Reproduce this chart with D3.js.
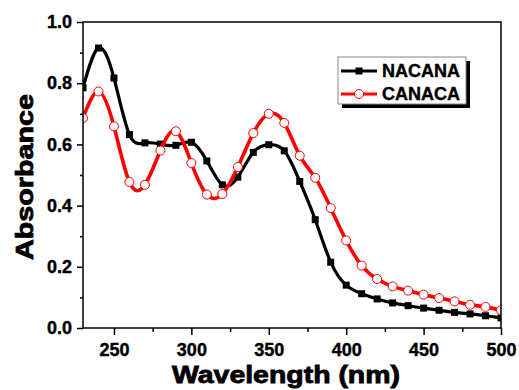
<!DOCTYPE html>
<html>
<head>
<meta charset="utf-8">
<script src="https://cdn.jsdelivr.net/npm/d3@7"></script>
<style>
  body { margin: 0; background: #fff; }
  text { font-family: "Liberation Sans", Arial, sans-serif; font-weight: bold; stroke: #000; stroke-width: 0.4px; }
</style>
</head>
<body>
<div class="canvas"></div>
<script>
// data, every 10 nm
const wavelengths = d3.range(230, 501, 10);
const nacana = [0.785, 0.915, 0.817, 0.632, 0.605, 0.601, 0.597, 0.607, 0.546, 0.468,
  0.493, 0.574, 0.599, 0.579, 0.479, 0.354, 0.215, 0.140, 0.112, 0.095,
  0.082, 0.073, 0.065, 0.058, 0.051, 0.046, 0.040, 0.033];
const canaca = [0.686, 0.773, 0.659, 0.477, 0.468, 0.580, 0.643, 0.539, 0.436, 0.438,
  0.526, 0.637, 0.700, 0.670, 0.563, 0.491, 0.392, 0.286, 0.204, 0.160,
  0.136, 0.122, 0.109, 0.098, 0.087, 0.076, 0.069, 0.058];
const seriesNames = ['NACANA', 'CANACA'];
const xTicks = [250, 300, 350, 400, 450, 500];
const xMinor = [275, 325, 375, 425, 475];
const yTicks = [0, 0.2, 0.4, 0.6, 0.8, 1.0];
const yMinor = [0.1, 0.3, 0.5, 0.7, 0.9];

const width = 519, height = 390;
const margin = {top: 22, right: 18, bottom: 62, left: 83};

const svg = d3.select('.canvas')
  .append('svg')
    .attr('width', width)
    .attr('height', height);

const x = d3.scaleLinear().domain([230, 500]).range([margin.left, width - margin.right]);
const y = d3.scaleLinear().domain([0, 1]).range([height - margin.bottom, margin.top]);

// axes
svg.append('g')
  .attr('transform', `translate(0, ${y(0)})`)
  .call(d3.axisBottom(x).tickValues(xTicks).tickSize(7).tickPadding(8).tickFormat(d3.format('d')));
svg.append('g')
  .attr('transform', `translate(0, ${y(0)})`)
  .call(d3.axisBottom(x).tickValues(xMinor).tickSize(4).tickFormat(''));
svg.append('g')
  .attr('transform', `translate(${x(230)}, 0)`)
  .call(d3.axisLeft(y).tickValues(yTicks).tickSize(6).tickPadding(5).tickFormat(d3.format('.1f')));
svg.append('g')
  .attr('transform', `translate(${x(230)}, 0)`)
  .call(d3.axisLeft(y).tickValues(yMinor).tickSize(3).tickFormat(''));

svg.selectAll('.domain').remove();
svg.selectAll('.tick line').attr('stroke', '#000').attr('stroke-width', 1.5);
svg.selectAll('.tick text')
  .attr('fill', '#000')
  .style('font-size', '18px');

// clip for the curves
svg.append('clipPath').attr('id', 'plot-clip')
  .append('rect')
    .attr('x', x(230)).attr('y', y(1))
    .attr('width', x(500) - x(230)).attr('height', y(0) - y(1));

const plot = svg.append('g').attr('clip-path', 'url(#plot-clip)');

const line = d3.line()
  .x((d, i) => x(wavelengths[i]))
  .y(d => y(d))
  .curve(d3.curveNatural);

// NACANA black line + squares
plot.append('path')
  .datum(nacana)
  .attr('fill', 'none')
  .attr('stroke', '#000')
  .attr('stroke-width', 3.2)
  .attr('d', line);
plot.selectAll('rect.sq')
  .data(nacana)
  .enter().append('rect')
    .attr('class', 'sq')
    .attr('x', (d, i) => x(wavelengths[i]) - 3.5)
    .attr('y', d => y(d) - 3.5)
    .attr('width', 7)
    .attr('height', 7)
    .attr('fill', '#000');

// CANACA red line + open circles
plot.append('path')
  .datum(canaca)
  .attr('fill', 'none')
  .attr('stroke', '#ff0000')
  .attr('stroke-width', 3.6)
  .attr('d', line);
plot.selectAll('circle.ci')
  .data(canaca)
  .enter().append('circle')
    .attr('class', 'ci')
    .attr('cx', (d, i) => x(wavelengths[i]))
    .attr('cy', d => y(d))
    .attr('r', 4.5)
    .attr('fill', '#fff')
    .attr('stroke', '#ff0000')
    .attr('stroke-width', 1);

// frame
svg.append('rect')
  .attr('x', x(230)).attr('y', y(1))
  .attr('width', x(500) - x(230)).attr('height', y(0) - y(1))
  .attr('fill', 'none')
  .attr('stroke', '#000')
  .attr('stroke-width', 1.5);

// axis titles
svg.append('text')
  .attr('x', 286)
  .attr('y', 383)
  .attr('text-anchor', 'middle')
  .attr('textLength', 228)
  .attr('lengthAdjust', 'spacingAndGlyphs')
  .style('font-size', '23px')
  .style('stroke-width', '0.8px')
  .text('Wavelength (nm)');
svg.append('text')
  .attr('transform', 'translate(33, 177) rotate(-90)')
  .attr('text-anchor', 'middle')
  .attr('textLength', 166)
  .attr('lengthAdjust', 'spacingAndGlyphs')
  .style('font-size', '24px')
  .style('stroke-width', '0.8px')
  .text('Absorbance');

// legend
const lg = svg.append('g').attr('transform', 'translate(338, 57)');
lg.append('rect').attr('x', 4).attr('y', 4).attr('width', 128).attr('height', 47).attr('fill', '#000');
lg.append('rect').attr('x', 0).attr('y', 0).attr('width', 128).attr('height', 47)
  .attr('fill', '#fff').attr('stroke', '#888').attr('stroke-width', 1);
seriesNames.forEach((name, i) => {
  const cy = 14 + i * 23;
  lg.append('line')
    .attr('x1', 3).attr('x2', 39).attr('y1', cy).attr('y2', cy)
    .attr('stroke', i === 0 ? '#000' : '#ff0000')
    .attr('stroke-width', 3);
  if (i === 0) {
    lg.append('rect').attr('x', 21 - 3.5).attr('y', cy - 3.5).attr('width', 7).attr('height', 7).attr('fill', '#000');
  } else {
    lg.append('circle').attr('cx', 21).attr('cy', cy).attr('r', 4.5)
      .attr('fill', '#fff').attr('stroke', '#ff0000').attr('stroke-width', 1);
  }
  lg.append('text')
    .attr('x', 44)
    .attr('y', cy)
    .attr('dy', '0.36em')
    .style('font-size', '18px')
    .text(name);
});
</script>
</body>
</html>
